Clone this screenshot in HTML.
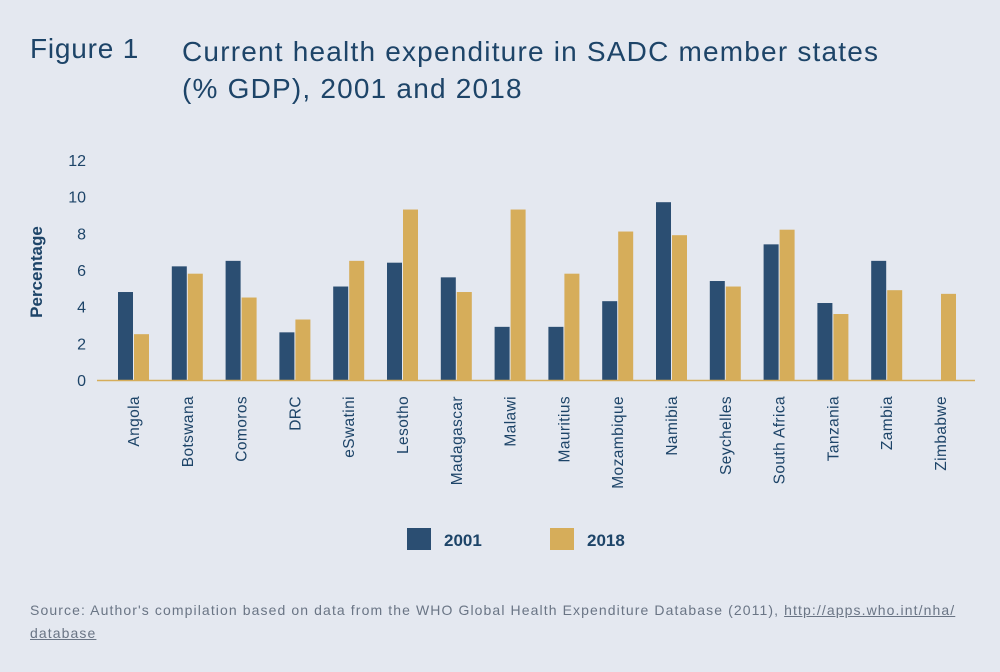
<!DOCTYPE html>
<html><head><meta charset="utf-8"><style>
body{margin:0;width:1000px;height:672px;background:#e4e8f0;font-family:"Liberation Sans",sans-serif;overflow:hidden;position:relative}
.t{position:absolute;color:#1d4468}
</style></head><body>
<div class="t" style="left:30px;top:33px;font-size:28px;letter-spacing:0.8px">Figure 1</div>
<div class="t" style="left:182px;top:33px;font-size:28px;line-height:37px;letter-spacing:1.2px">Current health expenditure in SADC member states<br>(% GDP), 2001 and 2018</div>
<svg id="c" width="1000" height="672" style="position:absolute;left:0;top:0"></svg>
<div class="t" style="left:30px;top:599px;font-size:14px;line-height:23px;color:#6a7585;letter-spacing:1.1px;white-space:nowrap">Source: Author's compilation based on data from the WHO Global Health Expenditure Database (2011), <span style="text-decoration:underline">http://apps.who.int/nha/</span><br><span style="text-decoration:underline">database</span></div>
<script>
const categories=["Angola","Botswana","Comoros","DRC","eSwatini","Lesotho","Madagascar","Malawi","Mauritius","Mozambique","Namibia","Seychelles","South Africa","Tanzania","Zambia","Zimbabwe"];
const values2001=[4.8,6.2,6.5,2.6,5.1,6.4,5.6,2.9,2.9,4.3,9.7,5.4,7.4,4.2,6.5,null];
const values2018=[2.5,5.8,4.5,3.3,6.5,9.3,4.8,9.3,5.8,8.1,7.9,5.1,8.2,3.6,4.9,4.7];
const yTicks=[0,2,4,6,8,10,12];
const svg=document.getElementById('c');const NS="http://www.w3.org/2000/svg";
const y=v=>380-v*18.33;const x=i=>133+i*53.8;
function mk(t,a,txt){const e=document.createElementNS(NS,t);for(const k in a)e.setAttribute(k,a[k]);if(txt!=null)e.textContent=txt;svg.appendChild(e);return e;}
yTicks.forEach(v=>{const e=mk('text',{x:86,y:y(v)+6,'text-anchor':'end','font-size':16,fill:'#1d4468','font-family':'Liberation Sans'},v);

});
const yt=mk('text',{transform:'translate(42,272) rotate(-90)','text-anchor':'middle','font-size':17,'font-weight':'bold',fill:'#1d4468','font-family':'Liberation Sans'},'Percentage');


categories.forEach((c,i)=>{
 if(values2001[i]!=null){const r=mk('rect',{x:x(i)-15,y:y(values2001[i]),width:15,height:380-y(values2001[i]),fill:'#2b4e72'});
 
 }
 const r2=mk('rect',{x:x(i)+1,y:y(values2018[i]),width:15,height:380-y(values2018[i]),fill:'#d6ad5a'});
 
 
 const t=mk('text',{transform:`translate(${x(i)+6},396) rotate(-90)`,'text-anchor':'end','font-size':15.5,'letter-spacing':0.4,fill:'#1d4468','font-family':'Liberation Sans'},c);
 
 
});
const ax=mk('line',{x1:97,x2:975,y1:380.5,y2:380.5,stroke:'#d6ad5a','stroke-width':1.5});


const l1=mk('rect',{x:407,y:528,width:24,height:22,fill:'#2b4e72'});


const lt1=mk('text',{x:444,y:546,'font-size':17,'font-weight':'bold',fill:'#1d4468','font-family':'Liberation Sans'},'2001');


const l2=mk('rect',{x:550,y:528,width:24,height:22,fill:'#d6ad5a'});


const lt2=mk('text',{x:587,y:546,'font-size':17,'font-weight':'bold',fill:'#1d4468','font-family':'Liberation Sans'},'2018');


</script>
</body></html>
